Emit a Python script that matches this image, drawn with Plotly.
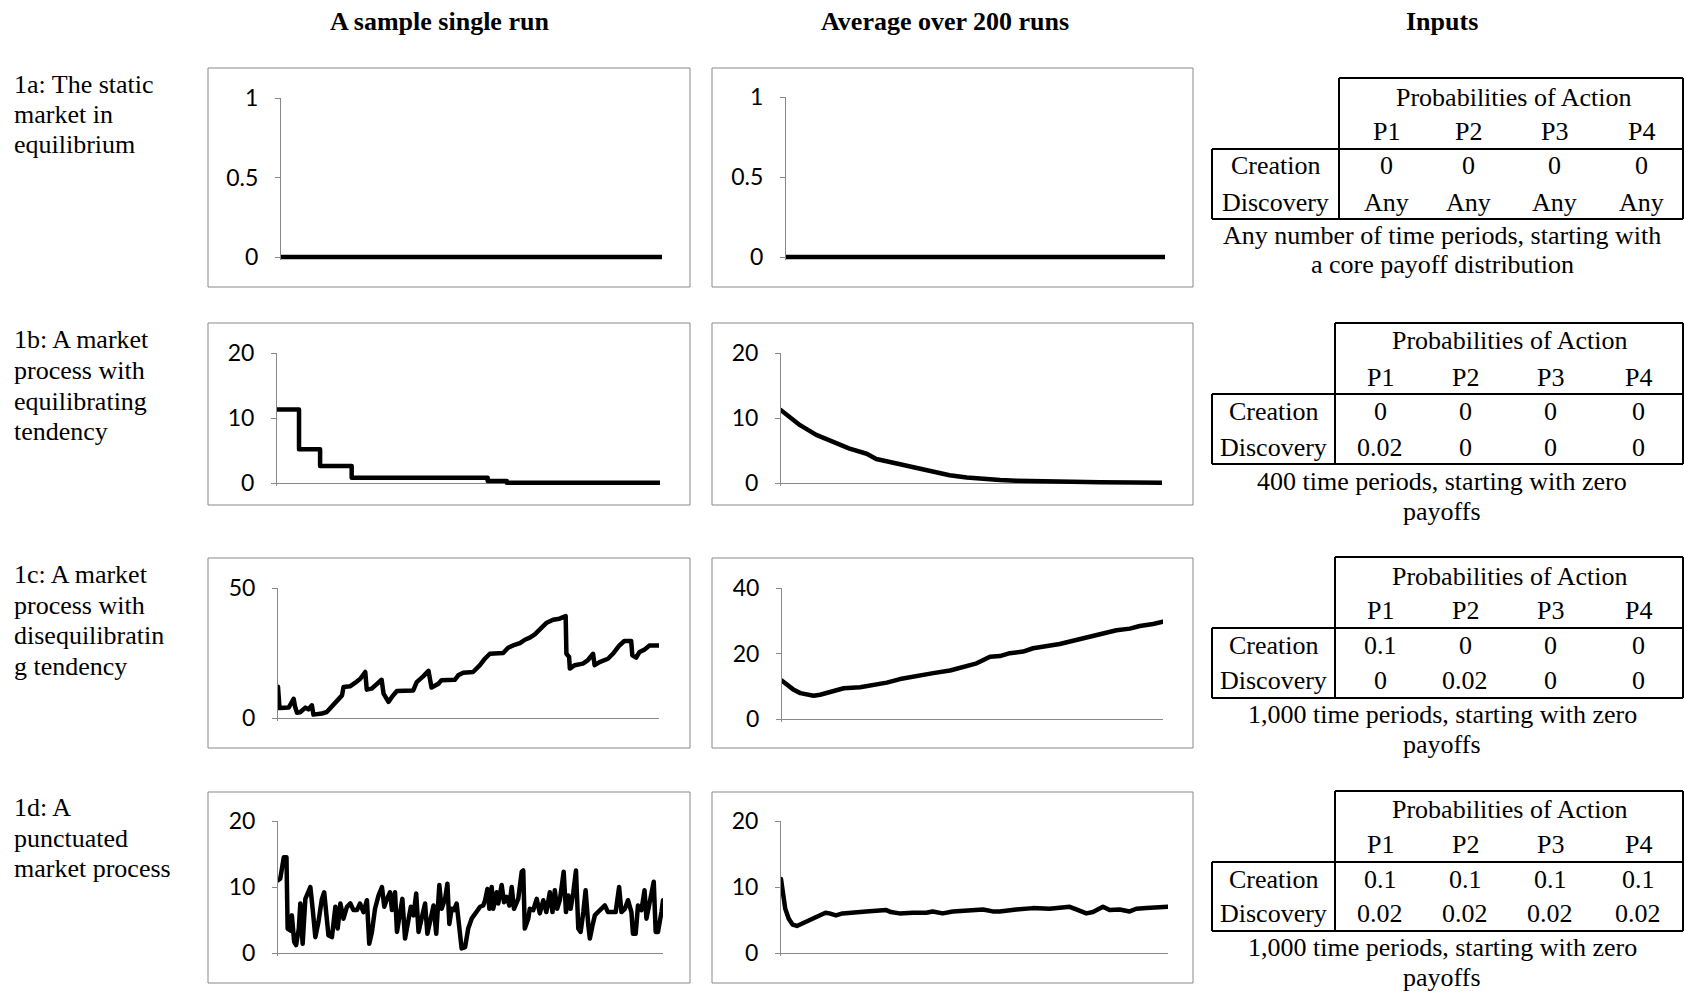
import plotly.graph_objects as go

W, H = 1684, 995

# ---------------------------------------------------------------- data
# 1a: static market in equilibrium (400 periods shown)
t_1a = [0, 100, 200, 300, 400]
single_1a = [0, 0, 0, 0, 0]
avg_1a = [0, 0, 0, 0, 0]

# 1b: equilibrating tendency, 400 periods (single run is a step path)
t_1b_single = [0, 23, 45, 78, 220, 240, 400]
single_1b = [11.3, 5.2, 2.6, 0.8, 0.3, 0.05, 0.05]
t_1b_avg = [0, 10, 20, 37, 55, 72, 90, 100, 112, 125, 142, 160, 177, 195,
            212, 230, 247, 265, 282, 310, 335, 370, 400]
avg_1b = [11.2, 10.0, 8.9, 7.4, 6.4, 5.3, 4.5, 3.7, 3.3, 2.9, 2.3, 1.7, 1.2,
          0.85, 0.6, 0.45, 0.35, 0.28, 0.2, 0.15, 0.1, 0.07, 0.05]

# 1c: disequilibrating tendency, 1,000 periods
t_1c_single = [0, 4, 28, 38, 41, 45, 50, 58, 72, 80, 89, 93, 102, 115, 128,
               141, 154, 168, 172, 189, 202, 216, 229, 233, 246, 259, 272,
               277, 290, 299, 312, 355, 364, 381, 395, 403, 421, 429, 464,
               473, 486, 512, 530, 543, 556, 591, 604, 617, 635, 648, 661,
               674, 687, 704, 722, 739, 755, 757, 764, 766, 779, 800, 813,
               827, 831, 844, 866, 879, 896, 909, 927, 930, 940, 949, 962,
               975, 999]
single_1c = [12.0, 3.8, 4.0, 6.5, 7.4, 4.2, 2.0, 2.2, 4.0, 3.3, 4.9, 1.3,
             1.4, 1.7, 2.3, 4.2, 6.2, 8.7, 11.9, 12.2, 13.5, 15.1, 17.7,
             10.9, 11.3, 13.2, 14.7, 9.4, 6.2, 8.1, 10.4, 10.6, 13.8, 16.0,
             18.1, 11.7, 13.2, 14.5, 14.7, 16.4, 17.4, 17.7, 20.3, 22.8,
             24.7, 25.0, 27.0, 27.9, 28.8, 30.1, 30.9, 32.2, 34.0, 36.5,
             37.8, 38.2, 39.2, 24.7, 23.5, 19.0, 20.3, 20.9, 22.2, 24.7,
             20.3, 21.5, 22.8, 24.7, 27.9, 29.6, 29.6, 24.1, 23.2, 25.4,
             26.3, 27.9, 27.9]
t_1c_avg = [0, 13, 31, 48, 66, 83, 100, 118, 135, 162, 205, 240, 275, 310,
            354, 397, 441, 485, 511, 546, 572, 598, 633, 659, 703, 729, 764,
            799, 834, 878, 913, 939, 974, 1000]
avg_1c = [11.7, 10.4, 8.9, 7.9, 7.4, 7.1, 7.4, 7.9, 8.7, 9.4, 9.7, 10.4,
          11.1, 12.2, 13.2, 14.0, 14.8, 16.0, 17.0, 19.0, 19.2, 20.1, 20.6,
          21.6, 22.3, 22.9, 23.9, 24.9, 25.9, 27.1, 27.6, 28.4, 29.0, 29.7]

# 1d: punctuated market process, 1,000 periods
t_1d_single = [0, 6, 15, 22, 25, 32, 36, 42, 47, 54, 58, 64, 71, 77, 84, 90,
               97, 105, 114, 120, 125, 131, 140, 149, 155, 162, 170, 179,
               188, 196, 205, 213, 222, 231, 237, 244, 252, 261, 270, 276,
               283, 291, 296, 304, 309, 317, 323, 330, 339, 345, 352, 359,
               365, 373, 382, 388, 395, 404, 411, 419, 425, 434, 440, 445,
               451, 457, 464, 471, 477, 486, 494, 503, 512, 525, 533, 538,
               544, 549, 555, 559, 568, 572, 581, 587, 594, 601, 607, 613,
               624, 633, 637, 641, 650, 654, 663, 672, 680, 689, 697, 706,
               713, 719, 725, 732, 742, 748, 754, 760, 767, 774, 780, 786,
               793, 799, 806, 810, 817, 823, 831, 840, 849, 857, 866, 877,
               886, 892, 901, 909, 918, 922, 929, 935, 944, 952, 957, 961,
               970, 976, 981, 987, 996, 1000]
single_1d = [11.0, 11.3, 14.5, 14.5, 3.7, 3.4, 5.7, 1.7, 1.2, 3.7, 7.5, 1.4,
             8.2, 9.2, 10.0, 6.7, 2.4, 4.7, 8.2, 9.2, 6.7, 2.7, 2.4, 7.0, 3.7,
             7.5, 5.2, 7.0, 7.5, 6.5, 6.5, 7.5, 6.2, 8.0, 1.4, 3.2, 6.7, 8.7,
             10.0, 7.0, 8.2, 9.2, 6.5, 9.2, 3.2, 6.2, 8.2, 2.2, 5.2, 7.0, 5.7,
             9.0, 3.2, 5.2, 7.5, 2.9, 4.9, 7.2, 2.9, 10.3, 6.7, 8.2, 10.5,
             4.4, 6.7, 6.5, 7.5, 3.2, 0.7, 0.9, 3.7, 5.2, 6.0, 7.0, 7.2, 8.0,
             9.7, 6.7, 10.0, 6.7, 9.2, 7.5, 10.3, 7.7, 8.5, 7.2, 10.0, 6.7,
             8.2, 12.3, 12.5, 3.7, 5.2, 6.7, 6.5, 8.2, 6.0, 8.0, 6.2, 9.2,
             6.2, 9.5, 6.7, 8.0, 12.3, 6.2, 8.7, 6.7, 9.2, 12.5, 3.7, 3.2,
             6.2, 9.5, 4.2, 2.2, 4.2, 5.7, 6.2, 6.7, 7.2, 6.2, 6.2, 6.2, 10.0,
             6.2, 6.7, 8.0, 6.2, 2.9, 2.9, 7.2, 6.5, 9.5, 5.2, 6.5, 8.7, 10.8,
             3.2, 3.2, 6.2, 8.0]
t_1d_avg = [0, 4, 11, 20, 30, 41, 52, 65, 78, 91, 103, 115, 125, 142, 159,
            185, 220, 246, 272, 284, 306, 341, 375, 392, 418, 444, 478, 522,
            547, 565, 608, 651, 694, 728, 746, 763, 789, 806, 832, 849, 875,
            901, 918, 944, 970, 1000]
avg_1d = [11.2, 9.2, 6.7, 5.2, 4.3, 4.1, 4.4, 4.6, 5.1, 5.3, 5.7, 6.1, 6.0,
          5.7, 6.0, 6.2, 6.3, 6.4, 6.5, 6.2, 6.0, 6.1, 6.1, 6.3, 6.0, 6.3,
          6.5, 6.6, 6.3, 6.3, 6.6, 6.8, 6.7, 6.8, 7.0, 6.6, 6.0, 6.2, 7.0,
          6.5, 6.6, 6.3, 6.7, 6.8, 6.9, 7.0]

# y-axis tick values for each chart (single run, average)
ticks_1a = ([0, 0.5, 1], [0, 0.5, 1])
ticks_1b = ([0, 10, 20], [0, 10, 20])
ticks_1c = ([0, 50], [0, 20, 40])
ticks_1d = ([0, 10, 20], [0, 10, 20])

column_titles = ["A sample single run", "Average over 200 runs", "Inputs"]
row_labels = [
    ["1a: The static", "market in", "equilibrium"],
    ["1b: A market", "process with", "equilibrating", "tendency"],
    ["1c: A market", "process with", "disequilibratin", "g tendency"],
    ["1d: A", "punctuated", "market process"],
]

players = ["P1", "P2", "P3", "P4"]
creation = [["0", "0", "0", "0"],
            ["0", "0", "0", "0"],
            ["0.1", "0", "0", "0"],
            ["0.1", "0.1", "0.1", "0.1"]]
discovery = [["Any", "Any", "Any", "Any"],
             ["0.02", "0", "0", "0"],
             ["0", "0.02", "0", "0"],
             ["0.02", "0.02", "0.02", "0.02"]]
captions = [["Any number of time periods, starting with", "a core payoff distribution"],
            ["400 time periods, starting with zero", "payoffs"],
            ["1,000 time periods, starting with zero", "payoffs"],
            ["1,000 time periods, starting with zero", "payoffs"]]

series = [
    ((t_1a, single_1a, "linear"), (t_1a, avg_1a, "linear"), ticks_1a, 400),
    ((t_1b_single, single_1b, "hv"), (t_1b_avg, avg_1b, "linear"), ticks_1b, 400),
    ((t_1c_single, single_1c, "linear"), (t_1c_avg, avg_1c, "linear"), ticks_1c, 1000),
    ((t_1d_single, single_1d, "linear"), (t_1d_avg, avg_1d, "linear"), ticks_1d, 1000),
]

# ---------------------------------------------------------------- layout (pixels)
BOX_X = [(208, 690), (712, 1193)]
BOX_Y = [(68, 287), (323, 505), (558, 748), (792, 983)]
# plot area per row & column: (x_axis, x_end, y_top_tick, y_zero)
PLOT = [
    [(281, 662, 98, 257), (786, 1165, 97, 257)],
    [(277, 660, 353, 483), (781, 1162, 353, 483)],
    [(278, 659, 588, 718), (782, 1163, 588, 719)],
    [(278, 663, 821, 953), (781, 1168, 821, 953)],
]
TABLE = [  # header top, vline x, box top, box bottom, column centres, text rows, caption rows
    dict(top=78, vx=1339, btop=149, bbot=219, cols=[1386, 1468, 1554, 1641],
         rows=[97, 131, 166, 202], cap=[235, 265], head=1513),
    dict(top=323, vx=1335, btop=394, bbot=464, cols=[1380, 1465, 1550, 1638],
         rows=[341, 377, 411, 447], cap=[481, 511], head=1509),
    dict(top=557, vx=1335, btop=628, bbot=698, cols=[1380, 1465, 1550, 1638],
         rows=[576, 610, 645, 680], cap=[714, 744], head=1509),
    dict(top=791, vx=1335, btop=862, bbot=931, cols=[1380, 1465, 1550, 1638],
         rows=[809, 844, 879, 913], cap=[947, 977], head=1509),
]
LABEL_ROWS = [[84, 114, 144], [339, 370, 401, 432], [574, 605, 635, 666], [807, 838, 868]]

GRAY = "#898989"
SERIF = "Liberation Serif"
TICKFONT = dict(family="Lato", size=23, color="#000000")


def px(x):
    return x / W


def py(y):
    return 1 - y / H


fig = go.Figure()
layout = dict(width=W, height=H, autosize=False,
              margin=dict(l=0, r=0, t=0, b=0, pad=0, autoexpand=False),
              paper_bgcolor="white", plot_bgcolor="white", showlegend=False)
shapes, annotations = [], []

k = 0
for r, (s_single, s_avg, ticks, n_periods) in enumerate(series):
    for c, (tx, ty, shape) in enumerate((s_single, s_avg)):
        k += 1
        xa, xe, ytop, yzero = PLOT[r][c]
        tv = ticks[c]
        ymax = tv[-1]
        pad_px = 3
        pad_val = pad_px * ymax / (yzero - ytop)
        suffix = "" if k == 1 else str(k)
        layout["xaxis" + suffix] = dict(
            domain=[px(xa), px(xe)], range=[0, n_periods], anchor="y" + suffix,
            showline=False, showgrid=False, zeroline=False, showticklabels=False,
            ticks="", fixedrange=True, automargin=False)
        layout["yaxis" + suffix] = dict(
            domain=[py(yzero + pad_px), py(ytop)], range=[-pad_val, ymax],
            anchor="x" + suffix, showline=True, linecolor=GRAY, linewidth=1,
            ticks="outside", ticklen=5, tickcolor=GRAY, tickwidth=1,
            tickvals=tv, tickfont=TICKFONT, ticklabelstandoff=12,
            showgrid=False, zeroline=True, zerolinecolor=GRAY, zerolinewidth=1,
            fixedrange=True, automargin=False)
        fig.add_trace(go.Scatter(
            x=tx, y=ty, mode="lines", line=dict(color="black", width=4.5, shape=shape),
            xaxis="x" + suffix, yaxis="y" + suffix, hoverinfo="skip"))
        # chart frame
        bx0, bx1 = BOX_X[c]
        by0, by1 = BOX_Y[r]
        shapes.append(dict(type="rect", xref="paper", yref="paper",
                           x0=px(bx0), x1=px(bx1), y0=py(by1), y1=py(by0),
                           line=dict(color=GRAY, width=1), layer="below"))

    # row description on the left
    for line, yy in zip(row_labels[r], LABEL_ROWS[r]):
        annotations.append(dict(text=line, xref="paper", yref="paper", x=px(12), y=py(yy),
                                xanchor="left", yanchor="middle", showarrow=False,
                                font=dict(family=SERIF, size=26, color="black")))

    # inputs table
    tb = TABLE[r]
    right = W - 1

    def hline(x0, x1, y):
        shapes.append(dict(type="line", xref="paper", yref="paper", x0=px(x0), x1=px(x1),
                           y0=py(y), y1=py(y), line=dict(color="black", width=2)))

    def vline(x, y0, y1):
        shapes.append(dict(type="line", xref="paper", yref="paper", x0=px(x), x1=px(x),
                           y0=py(y0), y1=py(y1), line=dict(color="black", width=2)))

    hline(tb["vx"], right, tb["top"])
    hline(1212, right, tb["btop"])
    hline(1212, right, tb["bbot"])
    vline(tb["vx"], tb["top"], tb["bbot"])
    vline(1212, tb["btop"], tb["bbot"])
    vline(right, tb["top"], tb["bbot"])

    def cell(text, x, y):
        annotations.append(dict(text=text, xref="paper", yref="paper", x=px(x), y=py(y),
                                xanchor="center", yanchor="middle", showarrow=False,
                                font=dict(family=SERIF, size=26, color="black")))

    cell("Probabilities of Action", tb["head"], tb["rows"][0])
    for j, p in enumerate(players):
        cell(p, tb["cols"][j], tb["rows"][1])
        cell(creation[r][j], tb["cols"][j], tb["rows"][2])
        cell(discovery[r][j], tb["cols"][j], tb["rows"][3])
    label_x = (1212 + tb["vx"]) / 2
    cell("Creation", label_x, tb["rows"][2])
    cell("Discovery", label_x, tb["rows"][3])
    for line, yy in zip(captions[r], tb["cap"]):
        cell(line, 1442, yy)

# column headings
for title, xx in zip(column_titles, [440, 945, 1442]):
    annotations.append(dict(text="<b>" + title + "</b>", xref="paper", yref="paper",
                            x=px(xx), y=py(21), xanchor="center", yanchor="middle",
                            showarrow=False, font=dict(family=SERIF, size=26, color="black")))

layout["shapes"] = shapes
layout["annotations"] = annotations
fig.update_layout(**layout)

post = ("document.body.style.margin='0';"
        "document.querySelectorAll('path.js-line').forEach(function(p){"
        "p.style.strokeLinejoin='round';p.style.strokeLinecap='round';});")
fig.write_html("out.html", config={"displayModeBar": False, "staticPlot": True},
               post_script=post)
